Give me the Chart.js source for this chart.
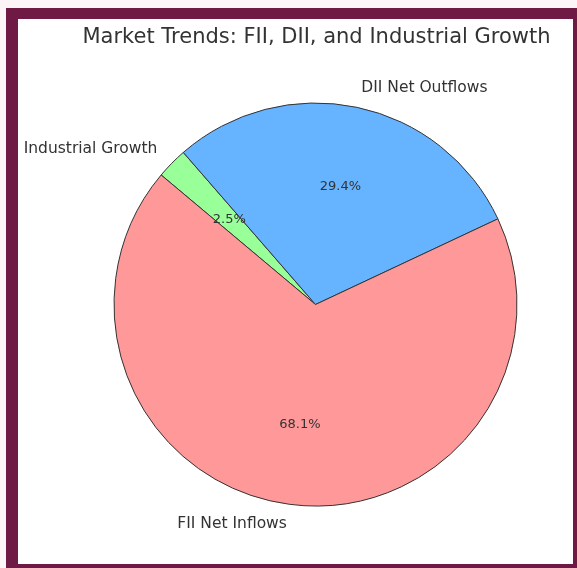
<!DOCTYPE html>
<html>
<head>
<meta charset="utf-8">
<script src="https://cdn.jsdelivr.net/npm/chart.js@4.4.1/dist/chart.umd.min.js"></script>
<style>
  html, body { margin:0; padding:0; background:#fbf5f7; }
  #frame {
    position:absolute; left:6px; top:8px; width:555px; height:545px;
    background:#fff;
    border-left:12px solid #6f1a44; border-top:11px solid #6f1a44;
    border-right:4px solid #6f1a44; border-bottom:4px solid #6f1a44;
  }
  #wrap { position:absolute; left:0; top:0; width:577px; height:568px; }
</style>
</head>
<body>
<div id="frame"></div>
<div id="wrap"><canvas id="pie" width="577" height="568"></canvas></div>
<script>
const TITLE = "Market Trends: FII, DII, and Industrial Growth";
const labels = ["FII Net Inflows", "DII Net Outflows", "Industrial Growth"];
const shares = [68.1, 29.4, 2.5];
const colors = ["#ff9999", "#66b3ff", "#99ff99"];

// matplotlib draws counter-clockwise from 140 deg; chart.js goes clockwise,
// so feed the slices reversed and rotate to match
const order = [2, 1, 0];

const FONT = "'DejaVu Sans', sans-serif";

const pieText = {
  id: 'pieText',
  afterDraw(chart){
    const ctx = chart.ctx;
    ctx.save();
    ctx.fillStyle = '#333';
    ctx.font = `21px ${FONT}`;
    ctx.textAlign = 'center';
    ctx.textBaseline = 'middle';
    ctx.fillText(TITLE, 316.5, 38);

    const meta = chart.getDatasetMeta(0);
    meta.data.forEach((arc, i) => {
      const idx = order[i];
      const { x, y, startAngle, endAngle, outerRadius } = arc.getProps(['x','y','startAngle','endAngle','outerRadius'], true);
      const mid = (startAngle + endAngle) / 2;
      const r = outerRadius;
      // label outside
      const lx = x + Math.cos(mid) * r * 1.1;
      const ly = y + Math.sin(mid) * r * 1.1;
      ctx.font = `15.5px ${FONT}`;
      ctx.fillStyle = '#333';
      ctx.textAlign = Math.cos(mid) >= 0 ? 'left' : 'right';
      ctx.textBaseline = 'middle';
      ctx.fillText(labels[idx], lx, ly);
      // pct inside
      const px = x + Math.cos(mid) * r * 0.6;
      const py = y + Math.sin(mid) * r * 0.6;
      ctx.font = `13px ${FONT}`;
      ctx.textAlign = 'center';
      ctx.fillStyle = '#333';
      ctx.fillText(shares[idx].toFixed(1) + '%', px, py);
    });
    ctx.restore();
  }
};

new Chart(document.getElementById('pie'), {
  type: 'pie',
  data: {
    labels: order.map(i => labels[i]),
    datasets: [{
      data: order.map(i => shares[i]),
      backgroundColor: order.map(i => colors[i]),
      borderColor: '#333',
      borderWidth: 1
    }]
  },
  options: {
    responsive: false,
    animation: false,
    rotation: -50,
    layout: { padding: { left: 113.5, right: 59.5, top: 102.5, bottom: 61.5 } },
    plugins: { legend: { display: false }, tooltip: { enabled: false }, title: { display: false } }
  },
  plugins: [pieText]
});
</script>
</body>
</html>
